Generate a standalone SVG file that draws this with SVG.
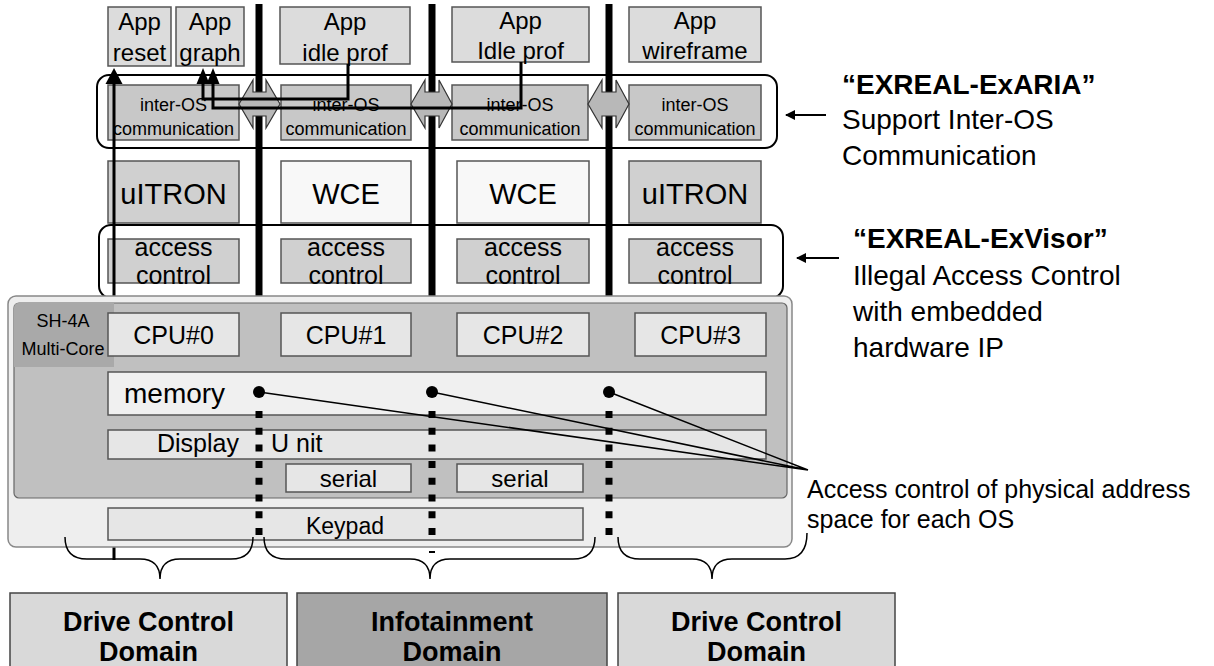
<svg xmlns="http://www.w3.org/2000/svg" width="1214" height="666" viewBox="0 0 1214 666">
<defs>
<style>
text{font-family:"Liberation Sans",Arial,sans-serif;fill:#000}
.c{text-anchor:middle}
.box{stroke:#555;stroke-width:1.5}
.app{fill:#dcdcdc}
.ios{fill:#c8c8c8}
.os1{fill:#d0d0d0}
.os2{fill:#f8f8f8}
.acc{fill:#d0d0d0}
.cpu{fill:#e6e6e6}
.thick{stroke:#000;stroke-width:7}
.conn{fill:none;stroke:#000;stroke-width:3}
.frame{fill:none;stroke:#000;stroke-width:2}
.dbl{fill:#b8b8b8;stroke:#333;stroke-width:1.2}
.dots{stroke:#000;stroke-width:7;stroke-dasharray:7 9.7}
.ptr{stroke:#000;stroke-width:1.5;fill:none}
.brace{fill:none;stroke:#000;stroke-width:1.5}
.f24{font-size:24px}
.f18{font-size:18px}
.b{font-weight:bold}
</style>
<marker id="ah" markerWidth="10" markerHeight="10" refX="9" refY="5" orient="auto" markerUnits="userSpaceOnUse">
<path d="M0,0 L10,5 L0,10 Z" fill="#000"/>
</marker>
</defs>

<!-- thick partition lines -->
<g id="partitions">
<line class="thick" x1="259" y1="4" x2="259" y2="297"/>
<line class="thick" x1="432" y1="4" x2="432" y2="297"/>
<line class="thick" x1="609" y1="4" x2="609" y2="297"/>
</g>

<!-- frames -->
<g id="exaria-frame"><rect class="frame" x="97" y="75" width="680" height="73" rx="12"/></g>
<g id="exvisor-frame"><rect class="frame" x="99" y="225" width="684" height="73" rx="12"/></g>

<!-- App row -->
<g id="app-reset"><rect class="box app" x="108" y="7" width="63" height="59"/>
<text class="c f24" x="139.5" y="30">App</text><text class="c f24" x="139.5" y="61">reset</text></g>
<g id="app-graph"><rect class="box app" x="176" y="7" width="68" height="59"/>
<text class="c f24" x="210" y="30">App</text><text class="c f24" x="210" y="61">graph</text></g>
<g id="app-idle1"><rect class="box app" x="280" y="7" width="130" height="57"/>
<text class="c f24" x="345" y="30">App</text><text class="c f24" x="345" y="61">idle prof</text></g>
<g id="app-idle2"><rect class="box app" x="452" y="7" width="137" height="55"/>
<text class="c f24" x="520.5" y="29">App</text><text class="c f24" x="520.5" y="59">Idle prof</text></g>
<g id="app-wireframe"><rect class="box app" x="629" y="7" width="132" height="55"/>
<text class="c f24" x="695" y="29">App</text><text class="c f24" x="695" y="59">wireframe</text></g>

<!-- inter-OS row -->
<g id="ios0"><rect class="box ios" x="108" y="85" width="131" height="55"/>
<text class="c" font-size="18" x="173.5" y="111">inter-OS</text><text class="c" font-size="18" x="173.5" y="135">communication</text></g>
<g id="ios1"><rect class="box ios" x="281" y="85" width="130" height="55"/>
<text class="c" font-size="18" x="346" y="111">inter-OS</text><text class="c" font-size="18" x="346" y="135">communication</text></g>
<g id="ios2"><rect class="box ios" x="452" y="85" width="136" height="55"/>
<text class="c" font-size="18" x="520" y="111">inter-OS</text><text class="c" font-size="18" x="520" y="135">communication</text></g>
<g id="ios3"><rect class="box ios" x="629" y="85" width="132" height="55"/>
<text class="c" font-size="18" x="695" y="111">inter-OS</text><text class="c" font-size="18" x="695" y="135">communication</text></g>

<!-- OS row -->
<g id="os0"><rect class="box os1" x="108" y="161" width="131" height="62"/><text class="c" font-size="29" x="173.5" y="204">uITRON</text></g>
<g id="os1"><rect class="box os2" x="281" y="161" width="130" height="62"/><text class="c" font-size="29" x="346" y="204">WCE</text></g>
<g id="os2"><rect class="box os2" x="457" y="161" width="132" height="62"/><text class="c" font-size="29" x="523" y="204">WCE</text></g>
<g id="os3"><rect class="box os1" x="629" y="161" width="132" height="62"/><text class="c" font-size="29" x="695" y="204">uITRON</text></g>

<!-- access control row -->
<g id="acc0"><rect class="box acc" x="108" y="239" width="131" height="44"/>
<text class="c" font-size="25" x="173.5" y="256">access</text><text class="c" font-size="25" x="173.5" y="284">control</text></g>
<g id="acc1"><rect class="box acc" x="281" y="239" width="130" height="44"/>
<text class="c" font-size="25" x="346" y="256">access</text><text class="c" font-size="25" x="346" y="284">control</text></g>
<g id="acc2"><rect class="box acc" x="457" y="239" width="132" height="44"/>
<text class="c" font-size="25" x="523" y="256">access</text><text class="c" font-size="25" x="523" y="284">control</text></g>
<g id="acc3"><rect class="box acc" x="629" y="239" width="132" height="44"/>
<text class="c" font-size="25" x="695" y="256">access</text><text class="c" font-size="25" x="695" y="284">control</text></g>

<!-- double arrows -->
<g id="double-arrows">
<path class="dbl" d="M239,104 L253,80 L253,92 L266,92 L266,80 L280,104 L266,128 L266,116 L253,116 L253,128 Z"/>
<path class="dbl" d="M411,104 L425,80 L425,92 L439,92 L439,80 L452,104 L439,128 L439,116 L425,116 L425,128 Z"/>
<path class="dbl" d="M588,104 L602,80 L602,92 L616,92 L616,80 L629,104 L616,128 L616,116 L602,116 L602,128 Z"/>
</g>

<!-- connectors -->
<g id="connectors">
<path class="conn" d="M348,64 V99 H203 V82"/>
<path d="M196.5,84 L203,68 L209.5,84 Z" fill="#000"/>
<path class="conn" d="M521,62 V108 H213 V82"/>
<path d="M206.5,84 L213,68 L219.5,84 Z" fill="#000"/>
<path class="conn" d="M114,560 V82"/>
<path d="M105.5,84 L114,68 L122.5,84 Z" fill="#000"/>
</g>

<!-- SH-4A chip -->
<g id="sh4a">
<rect x="8" y="296" width="784" height="251" rx="8" fill="#eeeeee" stroke="#888" stroke-width="1.5"/>
<rect x="14" y="303" width="773" height="195" rx="5" fill="#c0c0c0" stroke="#666" stroke-width="1.2"/>
<path d="M14,308 Q14,303 19,303 H114 V367 H14 Z" fill="#a9a9a9"/>
<text class="c f18" x="63" y="327">SH-4A</text>
<text class="c f18" x="63" y="355">Multi-Core</text>
</g>

<g id="cpu0"><rect class="box cpu" x="108" y="313" width="131" height="43"/><text class="c" font-size="25" x="173.5" y="344">CPU#0</text></g>
<g id="cpu1"><rect class="box cpu" x="281" y="313" width="130" height="43"/><text class="c" font-size="25" x="346" y="344">CPU#1</text></g>
<g id="cpu2"><rect class="box cpu" x="457" y="313" width="132" height="43"/><text class="c" font-size="25" x="523" y="344">CPU#2</text></g>
<g id="cpu3"><rect class="box cpu" x="635" y="313" width="131" height="43"/><text class="c" font-size="25" x="700.5" y="344">CPU#3</text></g>

<g id="memory"><rect class="box" x="108" y="372" width="658" height="43" fill="#f0f0f0"/><text font-size="28" x="124" y="403">memory</text></g>
<g id="display"><rect class="box" x="108" y="430" width="658" height="29" fill="#e6e6e6"/>
<text font-size="25" x="239" y="452" text-anchor="end">Display</text><text font-size="25" x="271" y="452">U nit</text></g>
<g id="serial1"><rect class="box" x="286" y="464" width="125" height="28" fill="#e6e6e6"/><text class="c f24" x="348.5" y="487">serial</text></g>
<g id="serial2"><rect class="box" x="457" y="464" width="126" height="28" fill="#e6e6e6"/><text class="c f24" x="520" y="487">serial</text></g>
<g id="keypad"><rect class="box" x="108" y="508" width="475" height="32" fill="#e6e6e6"/><text class="c" font-size="23" x="345" y="534">Keypad</text></g>

<!-- address-space partitions -->
<g id="address-partitions">
<line class="dots" x1="259" y1="411" x2="259" y2="540"/>
<line class="dots" x1="432" y1="411" x2="432" y2="540"/>
<rect x="429" y="551" width="6" height="2" fill="#000"/>
<line class="dots" x1="609" y1="411" x2="609" y2="540"/>
<circle cx="259" cy="392" r="6"/>
<circle cx="432" cy="392" r="6"/>
<circle cx="609" cy="392" r="6"/>
<path class="ptr" d="M259,392 L808,470 M432,392 L808,470 M609,392 L808,470"/>
</g>

<!-- braces -->
<g id="braces">
<path class="brace" d="M65,537 Q65,559 87,559 H140 Q160,559 160,579 Q160,559 180,559 H231 Q253,559 253,537"/>
<path class="brace" d="M264,537 Q264,559 286,559 H410 Q430,559 430,579 Q430,559 450,559 H573 Q595,559 595,537"/>
<path class="brace" d="M618,537 Q618,559 640,559 H692 Q712,559 712,579 Q712,559 732,559 H785 Q807,559 807,533"/>
</g>

<!-- domains -->
<g id="domain-drive1"><rect x="10" y="593" width="277" height="80" fill="#d9d9d9" stroke="#444" stroke-width="1.5"/>
<text class="c b" font-size="27" x="148.5" y="631">Drive Control</text><text class="c b" font-size="27" x="148.5" y="661">Domain</text></g>
<g id="domain-info"><rect x="297" y="593" width="310" height="80" fill="#a6a6a6" stroke="#444" stroke-width="1.5"/>
<text class="c b" font-size="27" x="452" y="631">Infotainment</text><text class="c b" font-size="27" x="452" y="661">Domain</text></g>
<g id="domain-drive2"><rect x="618" y="593" width="277" height="80" fill="#d9d9d9" stroke="#444" stroke-width="1.5"/>
<text class="c b" font-size="27" x="756.5" y="631">Drive Control</text><text class="c b" font-size="27" x="756.5" y="661">Domain</text></g>

<!-- annotations -->
<g id="exaria-note">
<line x1="826" y1="115" x2="786" y2="115" stroke="#000" stroke-width="2" marker-end="url(#ah)"/>
<text class="b" font-size="28" x="842" y="94">“EXREAL-ExARIA”</text>
<text font-size="28" x="842" y="129">Support Inter-OS</text>
<text font-size="28" x="842" y="165">Communication</text>
</g>
<g id="exvisor-note">
<line x1="839" y1="258" x2="797" y2="258" stroke="#000" stroke-width="2" marker-end="url(#ah)"/>
<text class="b" font-size="28" x="853" y="248">“EXREAL-ExVisor”</text>
<text font-size="28" x="853" y="285">Illegal Access Control</text>
<text font-size="28" x="853" y="321">with embedded</text>
<text font-size="28" x="853" y="357">hardware IP</text>
</g>
<g id="address-note">
<text font-size="25" x="807" y="498">Access control of physical address</text>
<text font-size="25" x="807" y="528">space for each OS</text>
</g>
</svg>
